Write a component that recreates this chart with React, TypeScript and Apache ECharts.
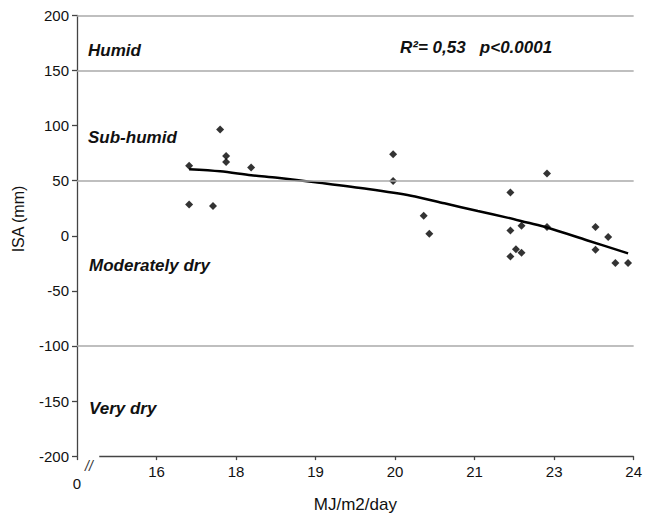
import React, { useEffect, useRef } from "react";
import * as echarts from "echarts";

// x positions are axis slots (0..7); the axis labels below name each slot
const xTickLabels = ["0", "16", "18", "19", "20", "21", "23", "24"];
const yTicks = [-200, -150, -100, -50, 0, 50, 100, 150, 200];
const classBoundaries = [200, 150, 50, -100];

const pointX = [
  1.80, 1.41, 1.875, 1.875, 2.19, 1.41, 1.71,
  3.975, 3.975, 4.36, 4.43,
  5.45, 5.45, 5.59, 5.45, 5.52, 5.59,
  5.91, 5.91, 6.52, 6.68, 6.52, 6.77, 6.93,
];
const pointY = [
  96.5, 63.6, 72.5, 66.9, 61.9, 28.5, 27,
  74, 49.7, 18.1, 1.9,
  39.4, 4.8, 9.2, -18.8, -12.3, -15.3,
  56.5, 8.1, 8.1, -1.1, -12.6, -24.7, -24.7,
];

const trendX = [1.41, 1.8, 2.19, 2.52, 3.0, 3.66, 4.2, 4.62, 5.04, 5.41, 5.66, 5.91, 6.41, 6.93];
const trendY = [60.5, 58.6, 55, 52.7, 48.5, 42.4, 36.4, 29.5, 22.5, 16.5, 12, 7.5, -4, -16];

const classLabels = ["Humid", "Sub-humid", "Moderately dry", "Very dry"];
const statsLabel = "R\u00b2= 0,53   p<0.0001";

const FONT = '"Liberation Sans", Arial, Helvetica, sans-serif';

export default function App() {
  const ref = useRef<HTMLDivElement>(null);

  useEffect(() => {
    if (!ref.current) return;
    const chart = echarts.init(ref.current, null, { renderer: "svg" });

    const annotationStyle = (text: string) => ({
      text,
      font: `italic bold 17px ${FONT}`,
      fill: "#111",
      align: "left",
      verticalAlign: "middle",
    });

    chart.setOption({
      animation: false,
      backgroundColor: "#ffffff",
      grid: { left: 77, right: 8, top: 15.5, bottom: 51.3, containLabel: false },
      xAxis: {
        type: "value",
        min: 0,
        max: 7,
        interval: 1,
        name: "MJ/m2/day",
        nameLocation: "middle",
        nameGap: 29,
        nameTextStyle: { fontFamily: FONT, fontSize: 17, color: "#111" },
        axisLine: { show: false, onZero: false },
        axisTick: { show: true, length: 4, lineStyle: { color: "#444", width: 1.3 } },
        splitLine: { show: false },
        axisLabel: {
          fontFamily: FONT,
          fontSize: 15,
          color: "#111",
          margin: 8,
          formatter: (v: number) => {
            const i = Math.round(v);
            if (i === 0) return "{z|" + xTickLabels[0] + "}";
            return xTickLabels[i] ?? "";
          },
          rich: {
            z: { fontFamily: FONT, fontSize: 15, color: "#111", padding: [12, 0, 0, 0] },
          },
        },
      },
      yAxis: {
        type: "value",
        min: yTicks[0],
        max: yTicks[yTicks.length - 1],
        interval: 50,
        axisLine: { show: true, lineStyle: { color: "#444", width: 1.3 } },
        axisTick: { show: true, length: 5, lineStyle: { color: "#444", width: 1.3 } },
        splitLine: { show: false },
        axisLabel: { fontFamily: FONT, fontSize: 15, color: "#111", margin: 8 },
      },
      graphic: [
        {
          type: "text",
          x: 18,
          y: 219,
          rotation: Math.PI / 2,
          style: {
            text: "ISA (mm)",
            font: `16px ${FONT}`,
            fill: "#111",
            align: "center",
            verticalAlign: "middle",
          },
        },
        { type: "text", x: 88, y: 50, style: annotationStyle(classLabels[0]) },
        { type: "text", x: 88, y: 137, style: annotationStyle(classLabels[1]) },
        { type: "text", x: 89, y: 265, style: annotationStyle(classLabels[2]) },
        { type: "text", x: 89, y: 408, style: annotationStyle(classLabels[3]) },
        { type: "text", x: 400, y: 47, style: annotationStyle(statsLabel) },
        {
          type: "text",
          x: 89,
          y: 466,
          style: {
            text: "//",
            font: `italic 14px ${FONT}`,
            fill: "#333",
            align: "center",
            verticalAlign: "middle",
          },
        },
      ],
      series: [
        {
          type: "line",
          data: trendX.map((x, i) => [x, trendY[i]]),
          smooth: 0.3,
          showSymbol: false,
          symbol: "none",
          lineStyle: { color: "#000", width: 2.5 },
          z: 3,
          markLine: {
            silent: true,
            symbol: ["none", "none"],
            label: { show: false },
            data: [
              ...classBoundaries.map((v) => ({
                yAxis: v,
                lineStyle: { color: "#aaaaaa", width: 1.5, type: "solid" },
              })),
              [
                { coord: [0.28, yTicks[0]], lineStyle: { color: "#444", width: 1.3, type: "solid" } },
                { coord: [7, yTicks[0]] },
              ],
            ],
          },
        },
        {
          type: "scatter",
          data: pointX.map((x, i) => [x, pointY[i]]),
          symbol: "diamond",
          symbolSize: 8,
          itemStyle: { color: "#000" },
          z: 4,
        },
      ],
    });

    return () => chart.dispose();
  }, []);

  return (
    <div
      ref={ref}
      style={{ position: "fixed", left: 0, top: 0, width: 645, height: 518, background: "#fff" }}
    />
  );
}
